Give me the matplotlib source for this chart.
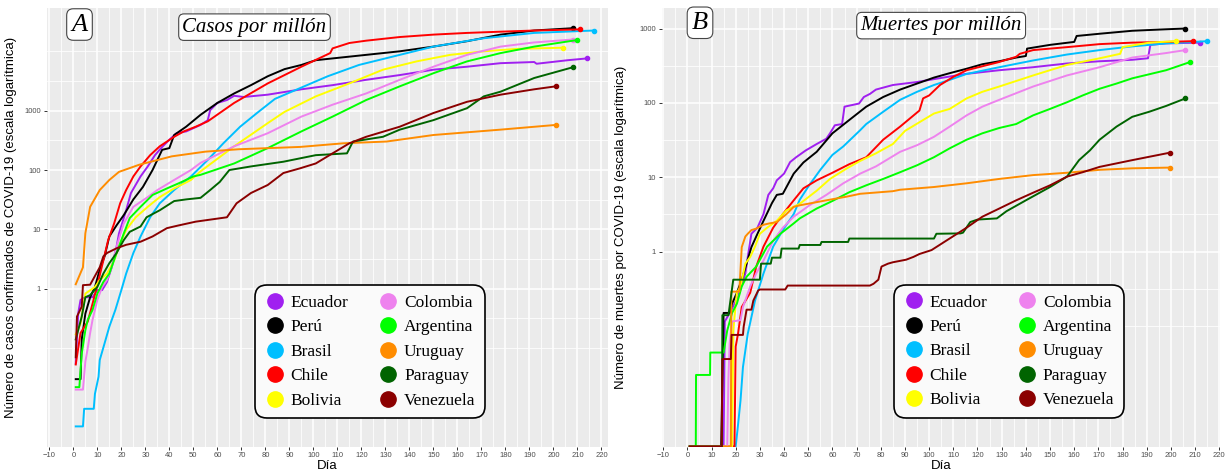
import numpy as np
import matplotlib.pyplot as plt
from matplotlib.lines import Line2D
from matplotlib.ticker import FixedLocator, FixedFormatter, NullFormatter

paises = ['Ecuador', 'Perú', 'Brasil', 'Chile', 'Bolivia',
          'Colombia', 'Argentina', 'Uruguay', 'Paraguay', 'Venezuela']
colores = ['#A020F0', 'black', '#00BFFF', 'red', 'yellow',
           'violet', '#00FF00', 'darkorange', 'darkgreen', 'darkred']

# casos por millón: (día, valor)
ecuador_casos = [(1, 0.055), (2, 0.38), (3, 0.65), (5, 0.72), (8, 0.72), (10, 0.95), (12, 0.95), (14, 1.3),
                 (16, 2.3), (18, 5.1), (19, 8.5), (22, 21), (24, 41), (28, 78), (31, 115), (34, 178), (37, 245),
                 (40, 324), (43, 417), (47, 447), (53, 575), (56, 690), (57, 1020), (60, 1350), (64, 1510),
                 (67, 1780), (71, 1700), (81, 1860), (95, 2290), (108, 2690), (122, 3310), (136, 3980),
                 (150, 4900), (164, 5500), (178, 6310), (192, 6600), (193, 6170), (206, 7080), (214, 7590)]
peru_casos = [(1, 0.03), (3, 0.03), (3.5, 0.14), (5, 0.38), (7, 0.72), (9, 1.07), (11, 2.1), (13, 3.5), (15, 7.6),
              (18, 11.7), (21, 17.4), (25, 32), (29, 52), (33, 100), (37, 219), (40, 234), (42, 389), (47, 537),
              (53, 851), (60, 1350), (67, 1950), (74, 2690), (81, 3800), (88, 5010), (95, 5890), (101, 7080),
              (108, 7590), (122, 8710), (136, 10000), (150, 12000), (164, 14800), (178, 19100), (192, 22400),
              (208, 24500)]
brasil_casos = [(1, 0.0048), (4, 0.0048), (4.5, 0.0095), (8.5, 0.0095), (9, 0.017), (10.5, 0.033), (11, 0.063),
                (13, 0.12), (15, 0.23), (17.5, 0.44), (20, 0.95), (22, 1.8), (25, 4.0), (28, 7.6), (32, 16),
                (36, 27.5), (42, 46), (49, 78), (56, 148), (62.5, 282), (69.5, 537), (76.5, 912), (84, 1580),
                (106, 3800), (119, 5890), (136, 8710), (150, 12000), (171, 16600), (192, 20400), (217, 22400)]
chile_casos = [(1, 0.053), (3, 0.18), (6, 0.28), (8, 0.56), (10, 1.15), (12.5, 3.0), (14.5, 6.6), (17, 12.6),
               (19.5, 27.5), (22, 46), (25, 78), (28, 115), (32, 178), (36, 251), (42, 363), (46, 447), (51, 537),
               (56, 661), (67, 1350), (81, 2880), (95, 5500), (107, 9330), (108, 11200), (115, 13800),
               (122, 15100), (136, 17400), (150, 19100), (164, 20400), (178, 21400), (192, 22400), (211, 23400)]
bolivia_casos = [(1, 0.17), (3, 0.26), (5, 0.83), (9, 1.07), (11, 1.4), (14, 1.8), (17, 3.0), (19.5, 5.8),
                 (22, 9.8), (26, 16), (31, 24), (36, 35), (42, 49), (49, 68), (53, 95), (67, 251), (81, 617),
                 (88, 955), (101, 1740), (115, 2880), (129, 4900), (143, 6760), (157, 8710), (171, 10000),
                 (185, 11000), (204, 11500)]
colombia_casos = [(1, 0.02), (4, 0.02), (5, 0.059), (6, 0.10), (7, 0.18), (8, 0.30), (10, 0.65), (12, 1.07),
                  (14, 1.4), (16, 2.3), (18, 5.1), (21, 12.6), (25, 24), (31, 35), (35, 46), (42, 68), (49, 100),
                  (53, 132), (67, 251), (81, 417), (95, 794), (108, 1260), (122, 1950), (136, 3310), (150, 5500),
                  (164, 8710), (178, 12000), (192, 14100), (208, 15800)]
argentina_casos = [(1, 0.022), (2.5, 0.022), (3.5, 0.081), (5, 0.20), (6, 0.30), (8, 0.44), (10, 0.83),
                   (12.5, 1.3), (15, 1.8), (18, 4.0), (21, 8.5), (23.5, 15.5), (28, 24), (33, 38), (39, 49),
                   (44, 60), (50, 78), (53, 83), (67, 129), (81, 234), (95, 447), (108, 794), (122, 1510),
                   (136, 2570), (150, 4270), (164, 6760), (178, 9330), (192, 12000), (210, 15500)]
uruguay_casos = [(1, 1.19), (4, 2.3), (5, 8.6), (7, 24), (11, 46), (15, 68), (19, 93), (27.5, 123), (41, 170),
                 (55, 204), (69, 224), (94.5, 245), (112.5, 282), (130.5, 302), (150, 389), (178, 479), (201, 575)]
paraguay_casos = [(1, 0.14), (3.5, 0.34), (5, 0.72), (7, 0.78), (10, 1.07), (12.5, 1.8), (15, 2.7), (18, 4.0),
                  (21, 6.6), (23.5, 9.1), (28, 11.2), (30.5, 16), (36, 21), (42, 30), (47, 32), (53, 34), (57, 46),
                  (61, 63), (65, 100), (74, 115), (87.5, 138), (101, 178), (114, 191), (116.5, 302), (129, 363),
                  (136, 479), (150, 692), (164, 1100), (171, 1740), (178, 2090), (192, 3550), (208, 5370)]
venezuela_casos = [(1, 0.07), (1.5, 0.34), (3.5, 0.50), (4, 1.15), (7, 1.17), (11, 2.3), (12.5, 3.5), (14, 4.0),
                   (18, 4.8), (22, 5.5), (28, 6.2), (33, 7.6), (39, 10.5), (44, 11.7), (51, 13.5), (64, 16),
                   (68, 27.5), (74, 41), (81, 56), (87.5, 89), (94.5, 107), (101, 129), (108, 191), (115, 282),
                   (122, 363), (136, 537), (150, 912), (164, 1410), (178, 1860), (192, 2290), (201, 2570)]

# muertes por millón: (día, valor), 0 = sin muertes todavía
ecuador_muertes = [(1, 0), (15, 0), (15.5, 0.115), (18, 0.16), (21, 0.25), (24, 0.51), (25, 0.85), (26.5, 1.74),
                   (29, 2.1), (31.5, 3.2), (33.5, 5.8), (35.5, 7.1), (37, 9.1), (40, 11.2), (42.5, 16), (45, 18.6),
                   (49, 23), (53.5, 28), (57.5, 33), (59, 39), (61, 50), (64, 52), (65, 89), (71, 98), (73, 120),
                   (75.5, 132), (78, 151), (85, 174), (95, 191), (104, 214), (115, 245), (129, 275), (143, 302),
                   (157, 339), (170.5, 363), (184, 380), (190.5, 398), (191.5, 603), (198, 631), (212, 646)]
peru_muertes = [(1, 0), (14, 0), (15, 0.15), (17.5, 0.15), (18.5, 0.2), (20.5, 0.28), (22.5, 0.42), (24.5, 0.69),
                (26.5, 1.15), (28.5, 1.6), (31.5, 2.6), (35, 4.5), (37, 5.8), (39.5, 6.0), (44, 11.2), (48, 15.8),
                (53.5, 22), (60, 39), (67, 59), (74, 89), (81, 120), (88, 151), (95, 182), (102, 219),
                (108.5, 251), (115.5, 288), (122, 331), (129, 363), (136, 407), (140, 427), (140.5, 537),
                (150, 603), (160, 661), (161, 794), (170.5, 851), (184, 933), (198, 977), (206, 1000)]
brasil_muertes = [(1, 0), (20, 0), (21, 0.0048), (22, 0.01), (23, 0.028), (25, 0.079), (28, 0.22), (31.5, 0.51),
                  (35.5, 1.17), (39.5, 1.95), (44, 3.2), (46.5, 5.0), (50.5, 7.9), (55, 12.6), (60, 20),
                  (64.5, 26), (71.5, 43), (74, 52), (81, 76), (88, 110), (95, 141), (102, 174), (108.5, 204),
                  (115.5, 245), (129, 302), (143, 372), (157, 447), (170.5, 513), (184, 575), (198, 631),
                  (215, 676)]
chile_muertes = [(1, 0), (19.5, 0), (20, 0.053), (21, 0.08), (22.5, 0.18), (26, 0.28), (28.5, 0.63), (31.5, 1.17),
                 (35.5, 2.1), (39.5, 3.2), (44, 4.9), (48, 7.1), (53.5, 9.1), (60, 11.5), (67, 15), (74, 18.6),
                 (81, 32), (88, 48), (96, 79), (97.5, 115), (100, 126), (104.5, 174), (110, 224), (115.5, 275),
                 (129, 355), (136, 417), (137.5, 457), (143, 513), (157, 562), (170.5, 617), (184, 646),
                 (198, 661), (209, 676)]
bolivia_muertes = [(1, 0), (18.5, 0), (19, 0.086), (19.5, 0.13), (20.5, 0.28), (22, 0.34), (24, 0.69), (26, 0.85),
                   (28, 1.17), (30, 1.74), (33, 2.1), (37, 2.6), (41, 3.6), (46.5, 4.4), (53.5, 6.6), (59, 9.5),
                   (66, 13.2), (71.5, 16.6), (78, 21), (85, 28), (90, 42), (96, 55), (102, 72), (108.5, 83),
                   (115.5, 115), (122, 141), (129, 166), (143, 234), (157, 324), (170.5, 398), (179, 457),
                   (180, 562), (191, 646), (202, 676)]
colombia_muertes = [(1, 0), (16.5, 0), (17, 0.02), (17.5, 0.058), (18.5, 0.115), (22, 0.12), (23, 0.18),
                    (26, 0.34), (28.5, 0.51), (31.5, 0.76), (35.5, 1.4), (39.5, 2.1), (44, 2.95), (50.5, 4.2),
                    (57.5, 5.8), (64.5, 8.3), (71.5, 11.2), (78, 14), (88, 22), (95, 27), (102, 35), (108.5, 48),
                    (115.5, 68), (122, 89), (129, 110), (143, 166), (157, 234), (170.5, 302), (184, 407),
                    (198, 468), (206, 513)]
argentina_muertes = [(1, 0), (3.5, 0), (3.6, 0.022), (9.4, 0.022), (9.5, 0.044), (15, 0.044), (16.5, 0.087),
                     (18.5, 0.15), (20.5, 0.2), (22.5, 0.34), (24.5, 0.46), (28.5, 0.63), (33, 1.17), (38.5, 1.74),
                     (44, 2.4), (46.5, 2.8), (53.5, 3.8), (60, 4.8), (67, 6.3), (74, 7.8), (81, 9.5), (88, 11.7),
                     (95, 14.5), (102, 18.6), (108.5, 24.5), (115.5, 32), (122, 39), (129, 46), (136, 52),
                     (143, 68), (150, 83), (157, 102), (163.5, 126), (170.5, 155), (177.5, 182), (184, 214),
                     (198, 275), (208, 355)]
uruguay_muertes = [(1, 0), (18, 0), (18.2, 0.29), (21.5, 0.29), (22, 0.58), (22.5, 1.15), (24, 1.6), (25, 1.74),
                   (26.5, 1.95), (28.5, 2.04), (31.5, 2.3), (34, 2.4), (37, 2.5), (41, 3.2), (44, 4.0), (46.5, 4.2),
                   (57.5, 4.9), (66, 5.5), (71.5, 6.0), (85, 6.5), (88, 6.8), (102, 7.4), (115.5, 8.3), (129, 9.5),
                   (143, 10.7), (157, 11.5), (170.5, 12.6), (184, 13.2), (199.5, 13.5)]
paraguay_muertes = [(1, 0), (14.3, 0), (14.5, 0.14), (17, 0.14), (19, 0.42), (30, 0.42), (30.5, 0.69), (34.5, 0.69),
                    (35, 0.83), (38.5, 0.83), (39, 1.1), (46, 1.1), (46.5, 1.23), (55, 1.23), (55.5, 1.35),
                    (66.5, 1.35), (67, 1.5), (102, 1.5), (103, 1.74), (113, 1.76), (114, 1.8), (117, 2.5),
                    (120, 2.7), (128, 2.8), (132, 3.5), (140, 4.9), (150, 7.4), (157, 10.2), (162, 17),
                    (166.5, 23), (170.5, 32), (177.5, 48), (184, 65), (191, 76), (198, 91), (206, 115)]
venezuela_muertes = [(1, 0), (14.2, 0), (14.5, 0.036), (18, 0.036), (18.3, 0.076), (23, 0.076), (23.3, 0.098),
                     (24.5, 0.166), (26.5, 0.166), (27.3, 0.22), (29.3, 0.30), (30, 0.31), (40.5, 0.31),
                     (41.5, 0.35), (75.5, 0.35), (77, 0.37), (79, 0.42), (80.3, 0.63), (83, 0.69), (85, 0.72),
                     (90.5, 0.78), (93.5, 0.85), (96, 0.93), (101, 1.05), (107, 1.4), (115.5, 2.1), (122, 2.95),
                     (129, 3.8), (136, 4.9), (143, 6.2), (150, 7.8), (157, 10.2), (163.5, 11.7), (170.5, 13.8),
                     (184, 17), (199.5, 21.4)]

casos = [ecuador_casos, peru_casos, brasil_casos, chile_casos, bolivia_casos,
         colombia_casos, argentina_casos, uruguay_casos, paraguay_casos, venezuela_casos]
muertes = [ecuador_muertes, peru_muertes, brasil_muertes, chile_muertes, bolivia_muertes,
           colombia_muertes, argentina_muertes, uruguay_muertes, paraguay_muertes, venezuela_muertes]

y_ticks = [1, 10, 100, 1000]
serif = 'Liberation Serif'
sans = 'Liberation Sans'


def panel(ax, series, ylim, xlim, letra, titulo, ylabel, tpos, lpos, legpos):
    ax.set_facecolor('#EBEBEB')
    for s in ax.spines.values():
        s.set_visible(False)
    ax.set_yscale('log')
    for datos, c in zip(series, colores):
        d, v = np.array(datos, dtype=float).T
        y = np.where(v > 0, v, ylim[0])  # ceros al borde inferior, como en ggplot
        ax.plot(d, y, color=c, lw=1.4, solid_joinstyle='round')
        ax.plot(d[-1], y[-1], 'o', color=c, ms=3.0)
    ax.set_xlim(*xlim)
    ax.set_ylim(*ylim)
    ax.yaxis.set_major_locator(FixedLocator(y_ticks))
    ax.yaxis.set_major_formatter(FixedFormatter([str(t) for t in y_ticks]))
    ax.yaxis.set_minor_locator(FixedLocator(10.0 ** np.arange(-1, 4.01, 0.5)))
    ax.yaxis.set_minor_formatter(NullFormatter())
    ax.set_xticks(np.arange(-10, 221, 10))
    ax.set_xticks(np.arange(-5, 221, 10), minor=True)
    ax.grid(which='major', color='white', lw=1.1)
    ax.grid(which='minor', color='white', lw=0.55)
    ax.set_axisbelow(True)
    ax.tick_params(which='major', length=2.5, width=0.7, color='#333333', labelsize=5.5,
                   labelcolor='#4D4D4D', pad=1.5)
    ax.tick_params(which='minor', length=0)
    for lab in ax.get_xticklabels() + ax.get_yticklabels():
        lab.set_family(sans)
    ax.set_xlabel('Día', fontsize=9.5, family=sans)
    ax.xaxis.set_label_coords(0.5, -0.03)
    ax.set_ylabel(ylabel, fontsize=9.5, family=sans)
    ax.yaxis.set_label_coords(lpos, 0.5)
    caja = dict(boxstyle='round,pad=0.18,rounding_size=0.25', fc='white', ec='#444444', lw=0.8)
    ax.text(tpos[0], tpos[1], letra, transform=ax.transAxes, ha='center', va='center',
            fontsize=19, family=serif, style='italic', bbox=caja)
    ax.text(tpos[2], tpos[3], titulo, transform=ax.transAxes, ha='center', va='center',
            fontsize=15, family=serif, style='italic', bbox=caja)
    handles = [Line2D([], [], marker='o', ls='none', color=c, ms=11) for c in colores]
    leg = ax.legend(handles, paises, ncol=2, loc='upper left', bbox_to_anchor=legpos,
                    borderaxespad=0, prop={'family': serif, 'size': 12.5}, frameon=True,
                    fancybox=True, facecolor='#FAFAFA', edgecolor='black', framealpha=1,
                    handletextpad=0.3, columnspacing=1.7, labelspacing=0.48,
                    borderpad=0.55, handlelength=1.2)
    leg.get_frame().set_linewidth(1.2)
    leg.get_frame().set_boxstyle('round', pad=0, rounding_size=0.7)


fig = plt.figure(figsize=(12.29, 4.72), dpi=100)
ax1 = fig.add_axes([0.038, 0.054, 0.457, 0.9284])
ax2 = fig.add_axes([0.5384, 0.054, 0.4543, 0.9284])

panel(ax1, casos, (0.0022, 53000), (-11.1, 222.9), 'A', 'Casos por millón',
      'Número de casos confirmados de COVID-19 (escala logarítmica)',
      (0.0584, 0.963, 0.370, 0.957), -0.053, (0.371, 0.3686))
panel(ax2, muertes, (0.0024, 1870), (-10.6, 220.3), 'B', 'Muertes por millón',
      'Número de muertes por COVID-19 (escala logarítmica)',
      (0.0686, 0.967, 0.5005, 0.9605), -0.062, (0.416, 0.369))

fig.savefig('out.png', dpi=100)
